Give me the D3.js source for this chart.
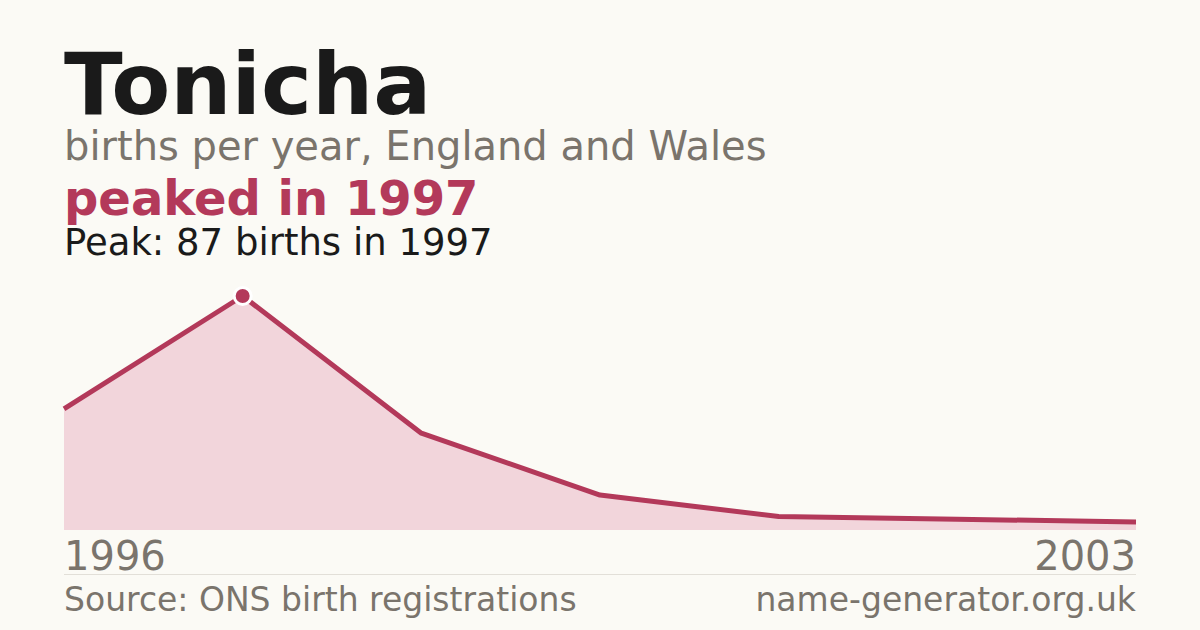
<!DOCTYPE html>
<html>
<head>
<meta charset="utf-8">
<script src="https://cdn.jsdelivr.net/npm/d3@7"></script>
<style>
  html, body { margin: 0; padding: 0; background: #fbfaf5; }
  svg { display: block; font-family: "DejaVu Sans", sans-serif; }
</style>
</head>
<body>
<svg id="chart"></svg>
<script>
// data
const years = [1996, 1997, 1998, 1999, 2000, 2001, 2003];
const births = [45, 87, 36, 13, 5, 4, 3];
const axisLabels = ["1996", "2003"];

const width = 1200;
const height = 630;
const plotLeft = 64;
const plotRight = 1136;
const plotBase = 530;
const plotTop = 296;

const accent = "#b3395a";
const grey = "#7a746c";

const svg = d3.select('#chart')
	.attr('width', width)
	.attr('height', height);

svg.append('rect')
	.attr('width', width)
	.attr('height', height)
	.attr('fill', '#fbfaf5');

// headings
svg.append('text')
	.attr('x', plotLeft).attr('y', 114)
	.attr('font-size', 86).attr('font-weight', 'bold')
	.attr('fill', '#1a1a1a')
	.text('Tonicha');

svg.append('text')
	.attr('x', plotLeft).attr('y', 160)
	.attr('font-size', 40)
	.attr('fill', grey)
	.text('births per year, England and Wales');

svg.append('text')
	.attr('x', plotLeft).attr('y', 215)
	.attr('font-size', 48).attr('font-weight', 'bold')
	.attr('fill', accent)
	.text('peaked in 1997');

svg.append('text')
	.attr('x', plotLeft).attr('y', 255)
	.attr('font-size', 37)
	.attr('fill', '#1a1a1a')
	.text('Peak: 87 births in 1997');

// scales (points are spaced by index)
const xScale = d3.scaleLinear().domain([0, years.length - 1]).range([plotLeft, plotRight]);
const yScale = d3.scaleLinear().domain([0, d3.max(births)]).range([plotBase, plotTop]);

const area = d3.area()
	.x((d, i) => xScale(i))
	.y0(yScale(0))
	.y1(d => yScale(d));

const line = d3.line()
	.x((d, i) => xScale(i))
	.y(d => yScale(d));

svg.append('path')
	.datum(births)
	.attr('d', area)
	.attr('fill', '#f2d5db');

svg.append('path')
	.datum(births)
	.attr('d', line)
	.attr('fill', 'none')
	.attr('stroke', accent)
	.attr('stroke-width', 5)
	.attr('stroke-linejoin', 'round');

// peak marker
const peakIndex = births.indexOf(d3.max(births));
svg.append('circle')
	.attr('cx', xScale(peakIndex))
	.attr('cy', yScale(births[peakIndex]))
	.attr('r', 8.5)
	.attr('fill', accent)
	.attr('stroke', '#ffffff')
	.attr('stroke-width', 3);

// x labels
svg.append('text')
	.attr('x', plotLeft).attr('y', 570)
	.attr('font-size', 40)
	.attr('fill', grey)
	.text(axisLabels[0]);

svg.append('text')
	.attr('x', plotRight).attr('y', 570)
	.attr('font-size', 40)
	.attr('text-anchor', 'end')
	.attr('fill', grey)
	.text(axisLabels[1]);

// footer
svg.append('line')
	.attr('x1', plotLeft).attr('x2', plotRight)
	.attr('y1', 574.5).attr('y2', 574.5)
	.attr('stroke', '#e2dfd8')
	.attr('stroke-width', 1);

svg.append('text')
	.attr('x', plotLeft).attr('y', 611)
	.attr('font-size', 33)
	.attr('fill', grey)
	.text('Source: ONS birth registrations');

svg.append('text')
	.attr('x', plotRight).attr('y', 611)
	.attr('font-size', 33)
	.attr('text-anchor', 'end')
	.attr('fill', grey)
	.text('name-generator.org.uk');
</script>
</body>
</html>
